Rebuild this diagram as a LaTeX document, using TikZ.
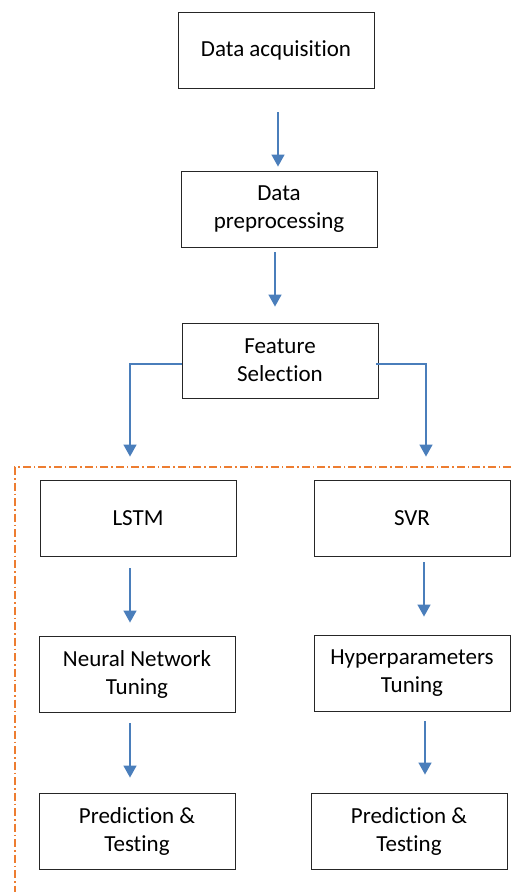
\documentclass[tikz,border=0pt]{standalone}
\usepackage{fontspec}
\setmainfont{Carlito}[Ligatures=NoCommon]
\usetikzlibrary{arrows.meta}
\definecolor{arrblue}{HTML}{4A7EBB}
\definecolor{dashorange}{HTML}{ED7D31}
\begin{document}
\begin{tikzpicture}[x=1pt,y=-1pt,
  box/.style={draw=black!85,line width=0.9pt,minimum width=196pt,minimum height=76pt,
    inner sep=0pt,align=center,font=\fontsize{23}{28}\selectfont},
  arr/.style={draw=arrblue,line width=1.5pt,-{Triangle[width=13pt,length=12pt]}},
  grp/.style={draw=dashorange,line width=1.5pt,dash pattern=on 8pt off 3pt on 1.5pt off 3pt}]
\useasboundingbox (0,0) rectangle (511,892);
\fill[white] (0,0) rectangle (511,892);
\node[box] (acq) at (276,50) {\raisebox{-2pt}{Data acquisition}};
\node[box] (pre) at (279,209) {Data\\preprocessing};
\node[box,minimum height=75pt] (feat) at (280,360.5) {Feature\\Selection};
\node[box] (lstm) at (138,518) {\raisebox{-2pt}{LSTM}};
\node[box] (svr) at (412,518) {\raisebox{-2pt}{SVR}};
\node[box] (nn) at (137,674) {Neural Network\\Tuning};
\node[box] (hyp) at (412,673) {Hyperparameters\\Tuning};
\node[box] (pl) at (137,831) {Prediction \&\\Testing};
\node[box] (pr) at (409,831) {Prediction \&\\Testing};
\draw[grp] (511,467) -- (15,467) -- (15,892);
\draw[arr] ([xshift=2pt,yshift=-24pt]acq.south) -- ([xshift=-1pt,yshift=4pt]pre.north);
\draw[arr] ([xshift=-4pt,yshift=-5pt]pre.south) -- ([xshift=-5pt,yshift=16pt]feat.north);
\draw[arr] ([yshift=-3.5pt]feat.west) -| ([xshift=-8pt,yshift=23pt]lstm.north);
\draw[arr] ([xshift=-2pt,yshift=-3.5pt]feat.east) -| ([xshift=14pt,yshift=23pt]svr.north);
\draw[arr] ([xshift=-8pt,yshift=-12pt]lstm.south) -- ([xshift=-7pt,yshift=13pt]nn.north);
\draw[arr] ([xshift=12pt,yshift=-6pt]svr.south) -- ([xshift=12pt,yshift=18pt]hyp.north);
\draw[arr] ([xshift=-7pt,yshift=-11pt]nn.south) -- ([xshift=-7pt,yshift=15pt]pl.north);
\draw[arr] ([xshift=13pt,yshift=-10pt]hyp.south) -- ([xshift=16pt,yshift=18pt]pr.north);
\end{tikzpicture}
\end{document}
